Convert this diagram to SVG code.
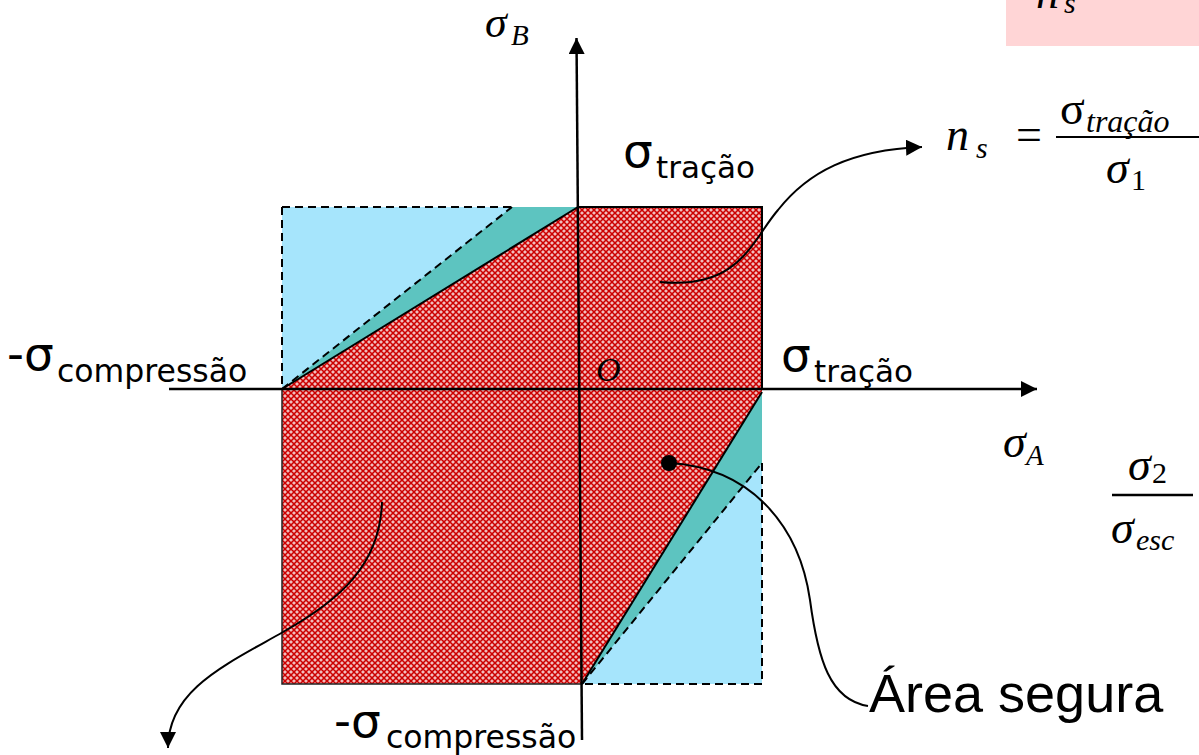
<svg xmlns="http://www.w3.org/2000/svg" width="1199" height="755" viewBox="0 0 1199 755">
<style>
.sans{font-family:"DejaVu Sans","Verdana",sans-serif;fill:#000}
.math{font-family:"Liberation Serif","Times New Roman",serif;font-style:italic;fill:#000}
.up{font-family:"Liberation Serif","Times New Roman",serif;fill:#000}
.arial{font-family:"Liberation Sans",Arial,sans-serif;fill:#000}
.dash{fill:none;stroke:#000;stroke-width:2;stroke-dasharray:8 5}
.solid{fill:none;stroke:#000;stroke-width:2}
.thin{fill:none;stroke:#222;stroke-width:1.5}
.axis{fill:none;stroke:#000;stroke-width:2.5}
.curve{fill:none;stroke:#000;stroke-width:2}
.blue{fill:#a6e5fc}
.teal{fill:#5dc4c0}
.red{fill:url(#hatch)}
</style>
<defs>
<pattern id="hatch" x="0" y="0" width="6" height="6" patternUnits="userSpaceOnUse">
<rect width="6" height="6" fill="#ffffff"/>
<path d="M-1,-1 L7,7 M7,-1 L-1,7" stroke="#cc0000" stroke-width="1.6"/>
<rect x="2.5" y="-0.5" width="1" height="1" fill="#cc0000"/>
<rect x="2.5" y="5.5" width="1" height="1" fill="#cc0000"/>
<rect x="-0.5" y="2.5" width="1" height="1" fill="#cc0000"/>
<rect x="5.5" y="2.5" width="1" height="1" fill="#cc0000"/>
</pattern>
<marker id="arr" viewBox="0 0 16 16" refX="16" refY="8" markerWidth="16" markerHeight="16" markerUnits="userSpaceOnUse" orient="auto">
<path d="M0,0 L16,8 L0,16 z" fill="#000"/>
</marker>
</defs>
<rect width="1199" height="755" fill="#fff"/>

<g id="pink-box">
<rect x="1006" y="0" width="193" height="46" fill="#ffd5d6"/>
<text class="math" x="1036" y="8" font-size="46">n</text>
<text class="math" x="1064" y="13" font-size="30">s</text>
</g>

<g id="region-upper-left">
<rect class="blue" x="282" y="207" width="296" height="182"/>
<polygon class="teal" points="282,389 512,207 578,207"/>
<polygon class="red" points="282,389 578,207 580,389"/>
<path class="dash" d="M282,207 H512 M282,207 V389 M282,389 L512,207"/>
<path class="solid" d="M282,389 L578,207"/>
</g>

<g id="region-upper-right">
<rect class="red" x="578" y="207" width="184" height="182"/>
<path class="solid" d="M578,207 H762 V389"/>
</g>

<g id="region-lower-left">
<rect class="red" x="282" y="389" width="300" height="295"/>
<path class="thin" d="M282,389 V684 H582"/>
</g>

<g id="region-lower-right">
<rect class="blue" x="582" y="389" width="180" height="295"/>
<polygon class="red" points="580,389 762,389 762,392 582,684"/>
<polygon class="teal" points="762,392 762,463 582,684"/>
<path class="dash" d="M762,463 V684 H582 M582,684 L762,463"/>
<path class="solid" d="M582,684 L762,392"/>
</g>

<g id="connectors">
<path class="axis" d="M169,389 H1037" marker-end="url(#arr)"/>
<path class="axis" d="M582,740 L576.5,38" marker-end="url(#arr)"/>
<path class="curve" d="M660,282 C740,290 752,240 778,210 C808,172 850,150 922,147" marker-end="url(#arr)"/>
<circle cx="669" cy="463" r="8" fill="#000"/>
<path class="curve" d="M669,463 C755,468 800,530 810,600 C818,660 830,700 868,706"/>
<path class="curve" d="M382,502 C380,565 340,600 283,632 C225,665 168,690 168,748" marker-end="url(#arr)"/>
</g>

<g id="label-sigmaB">
<text class="math" x="485" y="37" font-size="44">σ</text>
<text class="math" x="511" y="45" font-size="29">B</text>
</g>
<g id="label-sigmaA">
<text class="math" x="1003" y="457" font-size="46">σ</text>
<text class="math" x="1026" y="465" font-size="29">A</text>
</g>
<g id="label-origin">
<text class="math" x="596" y="381" font-size="34">O</text>
</g>
<g id="label-tracao-top">
<text class="sans" x="623" y="167" font-size="47">σ</text>
<text class="sans" x="656" y="178" font-size="31">tração</text>
</g>
<g id="label-tracao-right">
<text class="sans" x="781" y="371" font-size="47">σ</text>
<text class="sans" x="814" y="382" font-size="31">tração</text>
</g>
<g id="label-compressao-left">
<text class="sans" x="7" y="370" font-size="47">-σ</text>
<text class="sans" x="57" y="382" font-size="31.5">compressão</text>
</g>
<g id="label-compressao-bottom">
<text class="sans" x="334" y="737" font-size="47">-σ</text>
<text class="sans" x="386" y="748" font-size="31.5">compressão</text>
</g>
<g id="formula-ns">
<text class="math" x="946" y="150" font-size="46">n</text>
<text class="math" x="976" y="158" font-size="30">s</text>
<text class="up" x="1016" y="150" font-size="46">=</text>
<text class="up" x="1060" y="124" font-size="46">σ</text>
<text class="math" x="1086" y="132" font-size="32">tração</text>
<line x1="1056" y1="137" x2="1199" y2="137" stroke="#000" stroke-width="2"/>
<text class="math" x="1106" y="183" font-size="46">σ</text>
<text class="up" x="1131" y="190" font-size="30">1</text>
</g>
<g id="formula-ratio">
<text class="math" x="1128" y="480" font-size="46">σ</text>
<text class="up" x="1152" y="483" font-size="30">2</text>
<line x1="1112" y1="495" x2="1193" y2="495" stroke="#000" stroke-width="2.5"/>
<text class="math" x="1111" y="543" font-size="46">σ</text>
<text class="math" x="1136" y="550" font-size="30">esc</text>
</g>
<g id="label-area-segura">
<text class="arial" x="869" y="712" font-size="54">Área segura</text>
</g>
</svg>
